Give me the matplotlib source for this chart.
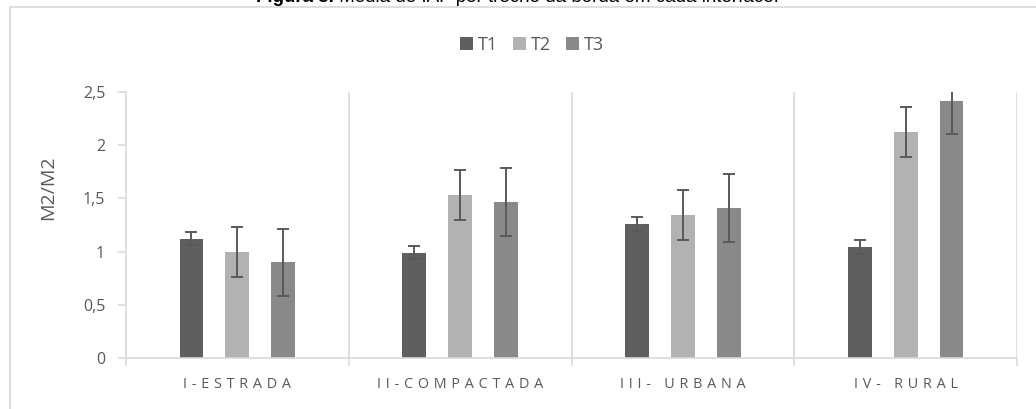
import matplotlib
matplotlib.use("Agg")
import matplotlib.pyplot as plt
from matplotlib.lines import Line2D
import numpy as np

categories = ["I-ESTRADA", "II-COMPACTADA", "III- URBANA", "IV- RURAL"]
series = ["T1", "T2", "T3"]
t1 = [1.12, 0.99, 1.26, 1.04]
t2 = [1.00, 1.53, 1.34, 2.12]
t3 = [0.90, 1.47, 1.41, 2.42]
t1_err = [0.06, 0.06, 0.065, 0.065]
t2_err = [0.235, 0.235, 0.235, 0.235]
t3_err = [0.315, 0.32, 0.32, 0.315]
yticks = [0, 0.5, 1, 1.5, 2, 2.5]
ytick_labels = ["0", "0,5", "1", "1,5", "2", "2,5"]
title_bold = "Figura 3."
title_rest = " Média de IAF por trecho da borda em cada interface."
ylabel = "M2/M2"

colors = ["#5f5f5f", "#b2b2b2", "#898989"]
err_color = "#595959"
grid_color = "#d9d9d9"
text_color = "#595959"

plt.rcParams['font.family'] = ['Open Sans', 'DejaVu Sans']

W, H = 1036, 409
fig = plt.figure(figsize=(W / 100, H / 100), dpi=100)
ax = fig.add_axes([126 / W, 1 - 358 / H, (1017 - 126) / W, (358 - 92) / H])

x = np.arange(len(categories))
offset = 0.206
width = 0.107
vals = [t1, t2, t3]
errs = [t1_err, t2_err, t3_err]
for i, (v, e) in enumerate(zip(vals, errs)):
    xi = x + (i - 1) * offset
    ax.bar(xi, v, width, color=colors[i], label=series[i], zorder=2)
    ax.errorbar(xi, v, yerr=e, fmt='none', ecolor=err_color, elinewidth=1.4,
                capsize=4.5, capthick=1.4, zorder=3)

ax.set_xlim(-0.5, len(categories) - 0.5)
ax.set_ylim(0, 2.5)
ax.set_yticks(yticks)
ax.set_yticklabels(ytick_labels, fontsize=11.5, color=text_color)

sp = "\u2004"
ax.set_xticks(x)
ax.set_xticklabels([sp.join(list(c)) for c in categories], fontsize=10.4, color=text_color)
ax.set_xticks(np.arange(len(categories) + 1) - 0.5, minor=True)
ax.tick_params(axis='x', which='major', length=0, pad=14)
ax.tick_params(axis='x', which='minor', length=5.5, color=grid_color, width=1.2)
ax.tick_params(axis='y', which='major', length=6, color=grid_color, width=1.2, pad=9)

for s in ['top', 'right']:
    ax.spines[s].set_visible(False)
for s in ['left', 'bottom']:
    ax.spines[s].set_color(grid_color)
    ax.spines[s].set_linewidth(1.2)
for b in np.arange(1, len(categories) + 1) - 0.5:
    ax.axvline(b, color=grid_color, lw=1.2, zorder=1)

ax.set_ylabel(ylabel, fontsize=14, color=text_color)
ax.yaxis.set_label_coords(-0.0774, 0.64)

leg = fig.legend(loc='center', bbox_to_anchor=(532 / W, 1 - 45 / H), ncol=3, frameon=False,
                 fontsize=13, handlelength=0.72, handleheight=0.72, handletextpad=0.3,
                 columnspacing=0.8, labelcolor=text_color)

# outer chart border
fig.add_artist(Line2D([10 / W, 10 / W, 1.0], [0.0, 1 - 7 / H, 1 - 7 / H],
                      transform=fig.transFigure, color=grid_color, lw=1.2))

# title (partially cut off at top, as in the reference)
fig.canvas.draw()
r = fig.canvas.get_renderer()
tb = fig.text(0, 1 - 1.5 / H, title_bold, fontsize=13.5, fontweight='bold',
              family='Liberation Sans', va='baseline', color='black')
tr = fig.text(0, 1 - 1.5 / H, title_rest, fontsize=13.5,
              family='Liberation Sans', va='baseline', color='black')
wb = tb.get_window_extent(r).width
wr = tr.get_window_extent(r).width
total = wb + wr
x0 = 517.5 - total / 2
tb.set_x(x0 / W)
tr.set_x((x0 + wb) / W)

fig.savefig("out.png", dpi=100)
